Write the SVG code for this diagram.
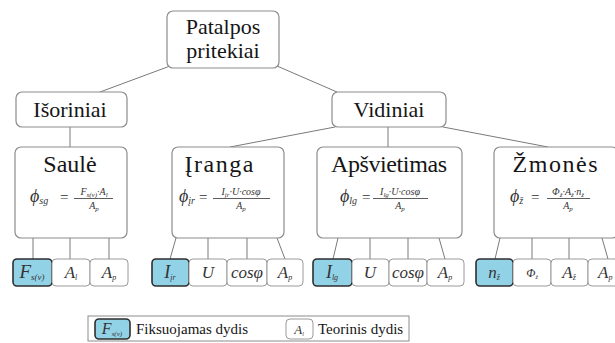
<svg xmlns="http://www.w3.org/2000/svg" width="615" height="343" viewBox="0 0 615 343" font-family="serif">
<rect width="615" height="343" fill="#fff"/>
<g id="connectors" stroke="#7a7a7a" stroke-width="1">
<line x1="170" y1="66" x2="100" y2="92"/>
<line x1="277" y1="66" x2="337" y2="92"/>
<line x1="70" y1="127" x2="70" y2="147"/>
<line x1="335" y1="127" x2="230" y2="147"/>
<line x1="388" y1="127" x2="388" y2="147"/>
<line x1="443" y1="127" x2="548" y2="147"/>
<line x1="33" y1="238" x2="33" y2="259"/>
<line x1="70" y1="238" x2="70" y2="259"/>
<line x1="109" y1="238" x2="109" y2="259"/>
<line x1="176" y1="238" x2="170" y2="259"/>
<line x1="208" y1="238" x2="208" y2="259"/>
<line x1="247" y1="238" x2="247" y2="259"/>
<line x1="277" y1="238" x2="285" y2="259"/>
<line x1="338" y1="238" x2="333" y2="259"/>
<line x1="370" y1="238" x2="370" y2="259"/>
<line x1="408" y1="238" x2="408" y2="259"/>
<line x1="439" y1="238" x2="445" y2="259"/>
<line x1="500" y1="238" x2="495" y2="259"/>
<line x1="532" y1="238" x2="532" y2="259"/>
<line x1="569" y1="238" x2="569" y2="259"/>
<line x1="602" y1="238" x2="608" y2="259"/>
</g>
<g id="patalpos">
<rect x="167" y="11" width="112" height="57" rx="6" fill="#fff" stroke="#8c8c8c" stroke-width="1.2"/>
<text font-family="serif" fill="#151515" text-anchor="middle" x="223" y="34" font-size="22">Patalpos</text>
<text font-family="serif" fill="#151515" text-anchor="middle" x="223" y="58" font-size="22">pritekiai</text>
</g>
<g id="isoriniai">
<rect x="16" y="92" width="111" height="35" rx="6" fill="#fff" stroke="#8c8c8c" stroke-width="1.2"/>
<text font-family="serif" fill="#151515" text-anchor="middle" x="70" y="117" font-size="22">Išoriniai</text>
</g>
<g id="vidiniai">
<rect x="332" y="92" width="114" height="35" rx="6" fill="#fff" stroke="#8c8c8c" stroke-width="1.2"/>
<text font-family="serif" fill="#151515" text-anchor="middle" x="389" y="117" font-size="22">Vidiniai</text>
</g>
<g id="saule">
<rect x="15" y="147" width="112" height="91" rx="6" fill="#fff" stroke="#8c8c8c" stroke-width="1.2"/>
<text font-family="serif" fill="#151515" text-anchor="middle" x="70" y="172" font-size="24">Saulė</text>
<text font-family="serif" font-style="italic" fill="#333" x="30" y="202" font-size="18">ϕ<tspan font-size="10" dy="2">sg</tspan></text>
<text font-family="serif" fill="#333" x="60" y="202" font-size="15">=</text>
<text font-family="serif" font-style="italic" fill="#333" text-anchor="middle" x="94" y="195" font-size="10">F<tspan font-size="7" dy="1.5">s(v)</tspan><tspan dy="-1.5">·A</tspan><tspan font-size="7" dy="1.5">l</tspan></text>
<line x1="74" y1="198.5" x2="113" y2="198.5" stroke="#333" stroke-width="0.8"/>
<text font-family="serif" font-style="italic" fill="#333" text-anchor="middle" x="94" y="209" font-size="10">A<tspan font-size="7" dy="1.5">p</tspan></text>
</g>
<g id="iranga">
<rect x="172" y="147" width="112" height="91" rx="6" fill="#fff" stroke="#8c8c8c" stroke-width="1.2"/>
<text font-family="serif" fill="#151515" text-anchor="middle" x="219" y="172" font-size="24" textLength="69" lengthAdjust="spacing">Įranga</text>
<text font-family="serif" font-style="italic" fill="#333" x="179" y="202" font-size="18">ϕ<tspan font-size="10" dy="2">įr</tspan></text>
<text font-family="serif" fill="#333" x="199" y="202" font-size="15">=</text>
<text font-family="serif" font-style="italic" fill="#333" text-anchor="middle" x="241" y="195" font-size="10">I<tspan font-size="7" dy="1.5">įr</tspan><tspan dy="-1.5">·U·cosφ</tspan></text>
<line x1="213" y1="198.5" x2="270" y2="198.5" stroke="#333" stroke-width="0.8"/>
<text font-family="serif" font-style="italic" fill="#333" text-anchor="middle" x="241" y="209" font-size="10">A<tspan font-size="7" dy="1.5">p</tspan></text>
</g>
<g id="apsvietimas">
<rect x="317" y="147" width="145" height="91" rx="6" fill="#fff" stroke="#8c8c8c" stroke-width="1.2"/>
<text font-family="serif" fill="#151515" text-anchor="middle" x="389" y="172" font-size="24" textLength="116" lengthAdjust="spacing">Apšvietimas</text>
<text font-family="serif" font-style="italic" fill="#333" x="340" y="202" font-size="18">ϕ<tspan font-size="10" dy="2">lg</tspan></text>
<text font-family="serif" fill="#333" x="362" y="202" font-size="15">=</text>
<text font-family="serif" font-style="italic" fill="#333" text-anchor="middle" x="400" y="195" font-size="10">I<tspan font-size="7" dy="1.5">lg</tspan><tspan dy="-1.5">·U·cosφ</tspan></text>
<line x1="373" y1="198.5" x2="428" y2="198.5" stroke="#333" stroke-width="0.8"/>
<text font-family="serif" font-style="italic" fill="#333" text-anchor="middle" x="400" y="209" font-size="10">A<tspan font-size="7" dy="1.5">p</tspan></text>
</g>
<g id="zmones">
<rect x="494" y="147" width="124" height="91" rx="6" fill="#fff" stroke="#8c8c8c" stroke-width="1.2"/>
<text font-family="serif" fill="#151515" text-anchor="middle" x="555" y="172" font-size="24" textLength="85" lengthAdjust="spacing">Žmonės</text>
<text font-family="serif" font-style="italic" fill="#333" x="510" y="202" font-size="18">ϕ<tspan font-size="10" dy="2">ž</tspan></text>
<text font-family="serif" fill="#333" x="531" y="202" font-size="15">=</text>
<text font-family="serif" font-style="italic" fill="#333" text-anchor="middle" x="568" y="195" font-size="10">Φ<tspan font-size="7" dy="1.5">ž</tspan><tspan dy="-1.5">·A</tspan><tspan font-size="7" dy="1.5">ž</tspan><tspan dy="-1.5">·n</tspan><tspan font-size="7" dy="1.5">ž</tspan></text>
<line x1="547" y1="198.5" x2="590" y2="198.5" stroke="#333" stroke-width="0.8"/>
<text font-family="serif" font-style="italic" fill="#333" text-anchor="middle" x="568" y="209" font-size="10">A<tspan font-size="7" dy="1.5">p</tspan></text>
</g>
<g id="leaves">
<g id="leaf-fsv"><rect x="13" y="259" width="39" height="27" rx="4" fill="#92d2e6" stroke="#2e2e2e" stroke-width="1.6"/><text font-family="serif" font-style="italic" fill="#333" text-anchor="middle" x="32" y="278" font-size="19">F<tspan font-size="9" dy="2">s(v)</tspan></text></g>
<g id="leaf-al"><rect x="52" y="259" width="38" height="27" rx="4" fill="#fff" stroke="#9a9a9a"/><text font-family="serif" font-style="italic" fill="#333" text-anchor="middle" x="71" y="278" font-size="17">A<tspan font-size="8" dy="2">l</tspan></text></g>
<g id="leaf-ap1"><rect x="90" y="259" width="38" height="27" rx="4" fill="#fff" stroke="#9a9a9a"/><text font-family="serif" font-style="italic" fill="#333" text-anchor="middle" x="109" y="278" font-size="17">A<tspan font-size="8" dy="2">p</tspan></text></g>
<g id="leaf-iir"><rect x="152" y="259" width="37" height="27" rx="4" fill="#92d2e6" stroke="#2e2e2e" stroke-width="1.6"/><text font-family="serif" font-style="italic" fill="#333" text-anchor="middle" x="170" y="278" font-size="18">I<tspan font-size="8" dy="2">įr</tspan></text></g>
<g id="leaf-u1"><rect x="189" y="259" width="38" height="27" rx="4" fill="#fff" stroke="#9a9a9a"/><text font-family="serif" font-style="italic" fill="#333" text-anchor="middle" x="208" y="278" font-size="17">U</text></g>
<g id="leaf-cos1"><rect x="227" y="259" width="40" height="27" rx="4" fill="#fff" stroke="#9a9a9a"/><text font-family="serif" font-style="italic" fill="#333" text-anchor="middle" x="247" y="278" font-size="17">cosφ</text></g>
<g id="leaf-ap2"><rect x="267" y="259" width="36" height="27" rx="4" fill="#fff" stroke="#9a9a9a"/><text font-family="serif" font-style="italic" fill="#333" text-anchor="middle" x="285" y="278" font-size="17">A<tspan font-size="8" dy="2">p</tspan></text></g>
<g id="leaf-ilg"><rect x="313" y="259" width="39" height="27" rx="4" fill="#92d2e6" stroke="#2e2e2e" stroke-width="1.6"/><text font-family="serif" font-style="italic" fill="#333" text-anchor="middle" x="332" y="278" font-size="18">I<tspan font-size="8" dy="2">lg</tspan></text></g>
<g id="leaf-u2"><rect x="352" y="259" width="37" height="27" rx="4" fill="#fff" stroke="#9a9a9a"/><text font-family="serif" font-style="italic" fill="#333" text-anchor="middle" x="370" y="278" font-size="17">U</text></g>
<g id="leaf-cos2"><rect x="389" y="259" width="38" height="27" rx="4" fill="#fff" stroke="#9a9a9a"/><text font-family="serif" font-style="italic" fill="#333" text-anchor="middle" x="408" y="278" font-size="17">cosφ</text></g>
<g id="leaf-ap3"><rect x="427" y="259" width="37" height="27" rx="4" fill="#fff" stroke="#9a9a9a"/><text font-family="serif" font-style="italic" fill="#333" text-anchor="middle" x="445" y="278" font-size="17">A<tspan font-size="8" dy="2">p</tspan></text></g>
<g id="leaf-nz"><rect x="476" y="259" width="37" height="27" rx="4" fill="#92d2e6" stroke="#2e2e2e" stroke-width="1.6"/><text font-family="serif" font-style="italic" fill="#333" text-anchor="middle" x="494" y="278" font-size="17">n<tspan font-size="8" dy="2">ž</tspan></text></g>
<g id="leaf-phiz"><rect x="513" y="259" width="38" height="27" rx="4" fill="#fff" stroke="#9a9a9a"/><text font-family="serif" font-style="italic" fill="#333" text-anchor="middle" x="532" y="277" font-size="12">Φ<tspan font-size="6" dy="2">ž</tspan></text></g>
<g id="leaf-az"><rect x="551" y="259" width="37" height="27" rx="4" fill="#fff" stroke="#9a9a9a"/><text font-family="serif" font-style="italic" fill="#333" text-anchor="middle" x="569" y="278" font-size="17">A<tspan font-size="8" dy="2">ž</tspan></text></g>
<g id="leaf-ap4"><rect x="588" y="259" width="38" height="27" rx="4" fill="#fff" stroke="#9a9a9a"/><text font-family="serif" font-style="italic" fill="#333" x="598" y="278" font-size="17">A<tspan font-size="8" dy="2">p</tspan></text></g>
</g>
<g id="legend">
<rect x="88" y="316" width="321" height="25" fill="#fff" stroke="#8c8c8c" stroke-width="1"/>
<rect x="95" y="319" width="35" height="20" rx="4" fill="#92d2e6" stroke="#2e2e2e" stroke-width="1.6"/>
<text font-family="serif" font-style="italic" fill="#333" text-anchor="middle" x="112" y="334" font-size="16">F<tspan font-size="7" dy="2">s(v)</tspan></text>
<text font-family="serif" fill="#151515" x="136" y="334" font-size="15">Fiksuojamas dydis</text>
<rect x="286" y="319" width="27" height="20" rx="4" fill="#fff" stroke="#9a9a9a"/>
<text font-family="serif" font-style="italic" fill="#333" text-anchor="middle" x="299" y="334" font-size="13">A<tspan font-size="6" dy="2">l</tspan></text>
<text font-family="serif" fill="#151515" x="318" y="334" font-size="15">Teorinis dydis</text>
</g>
</svg>
